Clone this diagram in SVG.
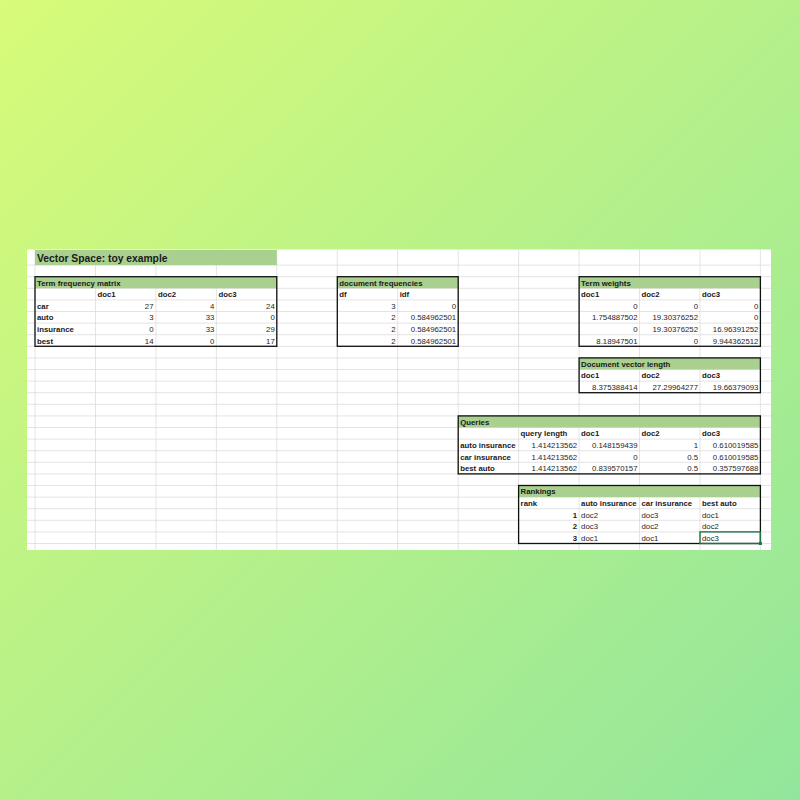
<svg xmlns="http://www.w3.org/2000/svg" width="800" height="800" viewBox="0 0 800 800">
<defs>
<linearGradient id="bg" x1="0" y1="0" x2="800" y2="800" gradientUnits="userSpaceOnUse">
<stop offset="0" stop-color="#d8fb78"/>
<stop offset="1" stop-color="#92e69c"/>
</linearGradient>
<style>
.grid{stroke:#d9d9d9;stroke-width:0.7;fill:none}
.hdr{fill:#a9d08e}
.box{fill:none;stroke:#111;stroke-width:1.3}
text{font-family:"Liberation Sans",Arial,sans-serif;font-size:7.8px;fill:#262626}
.b{font-weight:bold;fill:#1a1a1a}
.r{text-anchor:end}
.title{font-size:10.3px;font-weight:bold;fill:#1a1a1a}
</style>
</defs>
<rect width="800" height="800" fill="url(#bg)"/>
<g id="sheet">
<rect x="27" y="249.5" width="744" height="300.5" fill="#ffffff"/>
<path class="grid" d="M27 265.1H771M27 276.7H771M27 288.3H771M27 299.9H771M27 311.5H771M27 323.1H771M27 334.7H771M27 346.3H771M27 357.9H771M27 369.5H771M27 381.1H771M27 392.7H771M27 404.3H771M27 415.9H771M27 427.5H771M27 439.1H771M27 450.7H771M27 462.3H771M27 473.9H771M27 485.5H771M27 497.1H771M27 508.7H771M27 520.3H771M27 531.9H771M27 543.5H771"/>
<path class="grid" d="M35 249.5V550M95.5 249.5V550M156 249.5V550M216.4 249.5V550M276.8 249.5V550M337.3 249.5V550M397.7 249.5V550M458.2 249.5V550M518.6 249.5V550M579.1 249.5V550M639.5 249.5V550M700 249.5V550M760.4 249.5V550"/>
</g>
<g id="title">
<rect class="hdr" x="35" y="250" width="241.8" height="15.1"/>
<text class="title" x="37" y="261.8">Vector Space: toy example</text>
</g>
<g id="term-frequency-matrix">
<rect class="hdr" x="35" y="276.7" width="241.8" height="11.6"/>
<rect x="35" y="288.3" width="241.8" height="58" fill="none"/>
<text class="b" x="37" y="285.6">Term frequency matrix</text>
<text class="b" x="97.5" y="297.2">doc1</text>
<text class="b" x="158" y="297.2">doc2</text>
<text class="b" x="218.4" y="297.2">doc3</text>
<text class="b" x="37" y="308.8">car</text>
<text class="r" x="153.5" y="308.8">27</text>
<text class="r" x="214.4" y="308.8">4</text>
<text class="r" x="274.8" y="308.8">24</text>
<text class="b" x="37" y="320.4">auto</text>
<text class="r" x="153.5" y="320.4">3</text>
<text class="r" x="214.4" y="320.4">33</text>
<text class="r" x="274.8" y="320.4">0</text>
<text class="b" x="37" y="332">insurance</text>
<text class="r" x="153.5" y="332">0</text>
<text class="r" x="214.4" y="332">33</text>
<text class="r" x="274.8" y="332">29</text>
<text class="b" x="37" y="343.6">best</text>
<text class="r" x="153.5" y="343.6">14</text>
<text class="r" x="214.4" y="343.6">0</text>
<text class="r" x="274.8" y="343.6">17</text>
<rect class="box" x="35" y="276.7" width="241.8" height="69.6"/>
</g>
<g id="document-frequencies">
<rect class="hdr" x="337.3" y="276.7" width="120.9" height="11.6"/>
<text class="b" x="339.3" y="285.6">document frequencies</text>
<text class="b" x="339.3" y="297.2">df</text>
<text class="b" x="399.7" y="297.2">idf</text>
<text class="r" x="395.7" y="308.8">3</text>
<text class="r" x="456.2" y="308.8">0</text>
<text class="r" x="395.7" y="320.4">2</text>
<text class="r" x="456.2" y="320.4">0.584962501</text>
<text class="r" x="395.7" y="332">2</text>
<text class="r" x="456.2" y="332">0.584962501</text>
<text class="r" x="395.7" y="343.6">2</text>
<text class="r" x="456.2" y="343.6">0.584962501</text>
<rect class="box" x="337.3" y="276.7" width="120.9" height="69.6"/>
</g>
<g id="term-weights">
<rect class="hdr" x="579.1" y="276.7" width="181.3" height="11.6"/>
<text class="b" x="581.1" y="285.6">Term weights</text>
<text class="b" x="581.1" y="297.2">doc1</text>
<text class="b" x="641.5" y="297.2">doc2</text>
<text class="b" x="702" y="297.2">doc3</text>
<text class="r" x="637.5" y="308.8">0</text>
<text class="r" x="698" y="308.8">0</text>
<text class="r" x="758.4" y="308.8">0</text>
<text class="r" x="637.5" y="320.4">1.754887502</text>
<text class="r" x="698" y="320.4">19.30376252</text>
<text class="r" x="758.4" y="320.4">0</text>
<text class="r" x="637.5" y="332">0</text>
<text class="r" x="698" y="332">19.30376252</text>
<text class="r" x="758.4" y="332">16.96391252</text>
<text class="r" x="637.5" y="343.6">8.18947501</text>
<text class="r" x="698" y="343.6">0</text>
<text class="r" x="758.4" y="343.6">9.944362512</text>
<rect class="box" x="579.1" y="276.7" width="181.3" height="69.6"/>
</g>
<g id="document-vector-length">
<rect class="hdr" x="579.1" y="357.9" width="181.3" height="11.6"/>
<text class="b" x="581.1" y="366.8">Document vector length</text>
<text class="b" x="581.1" y="378.4">doc1</text>
<text class="b" x="641.5" y="378.4">doc2</text>
<text class="b" x="702" y="378.4">doc3</text>
<text class="r" x="637.5" y="390">8.375388414</text>
<text class="r" x="698" y="390">27.29964277</text>
<text class="r" x="758.4" y="390">19.66379093</text>
<rect class="box" x="579.1" y="357.9" width="181.3" height="34.8"/>
</g>
<g id="queries">
<rect class="hdr" x="458.2" y="415.9" width="302.2" height="11.6"/>
<text class="b" x="460.2" y="424.8">Queries</text>
<text class="b" x="520.6" y="436.4">query length</text>
<text class="b" x="581.1" y="436.4">doc1</text>
<text class="b" x="641.5" y="436.4">doc2</text>
<text class="b" x="702" y="436.4">doc3</text>
<text class="b" x="460.2" y="448">auto insurance</text>
<text class="r" x="577.1" y="448">1.414213562</text>
<text class="r" x="637.5" y="448">0.148159439</text>
<text class="r" x="698" y="448">1</text>
<text class="r" x="758.4" y="448">0.610019585</text>
<text class="b" x="460.2" y="459.6">car insurance</text>
<text class="r" x="577.1" y="459.6">1.414213562</text>
<text class="r" x="637.5" y="459.6">0</text>
<text class="r" x="698" y="459.6">0.5</text>
<text class="r" x="758.4" y="459.6">0.610019585</text>
<text class="b" x="460.2" y="471.2">best auto</text>
<text class="r" x="577.1" y="471.2">1.414213562</text>
<text class="r" x="637.5" y="471.2">0.839570157</text>
<text class="r" x="698" y="471.2">0.5</text>
<text class="r" x="758.4" y="471.2">0.357597688</text>
<rect class="box" x="458.2" y="415.9" width="302.2" height="58"/>
</g>
<g id="rankings">
<rect class="hdr" x="518.6" y="485.5" width="241.8" height="11.6"/>
<text class="b" x="520.6" y="494.4">Rankings</text>
<text class="b" x="520.6" y="506">rank</text>
<text class="b" x="581.1" y="506">auto insurance</text>
<text class="b" x="641.5" y="506">car insurance</text>
<text class="b" x="702" y="506">best auto</text>
<text class="b r" x="577.1" y="517.6">1</text>
<text x="581.1" y="517.6">doc2</text>
<text x="641.5" y="517.6">doc3</text>
<text x="702" y="517.6">doc1</text>
<text class="b r" x="577.1" y="529.2">2</text>
<text x="581.1" y="529.2">doc3</text>
<text x="641.5" y="529.2">doc2</text>
<text x="702" y="529.2">doc2</text>
<text class="b r" x="577.1" y="540.8">3</text>
<text x="581.1" y="540.8">doc1</text>
<text x="641.5" y="540.8">doc1</text>
<text x="702" y="540.8">doc3</text>
<rect class="box" x="518.6" y="485.5" width="241.8" height="58"/>
<rect x="700" y="531.9" width="60.4" height="11.6" fill="none" stroke="#217346" stroke-width="1.4"/>
<rect x="758.9" y="542" width="3" height="3" fill="#217346"/>
</g>
</svg>
